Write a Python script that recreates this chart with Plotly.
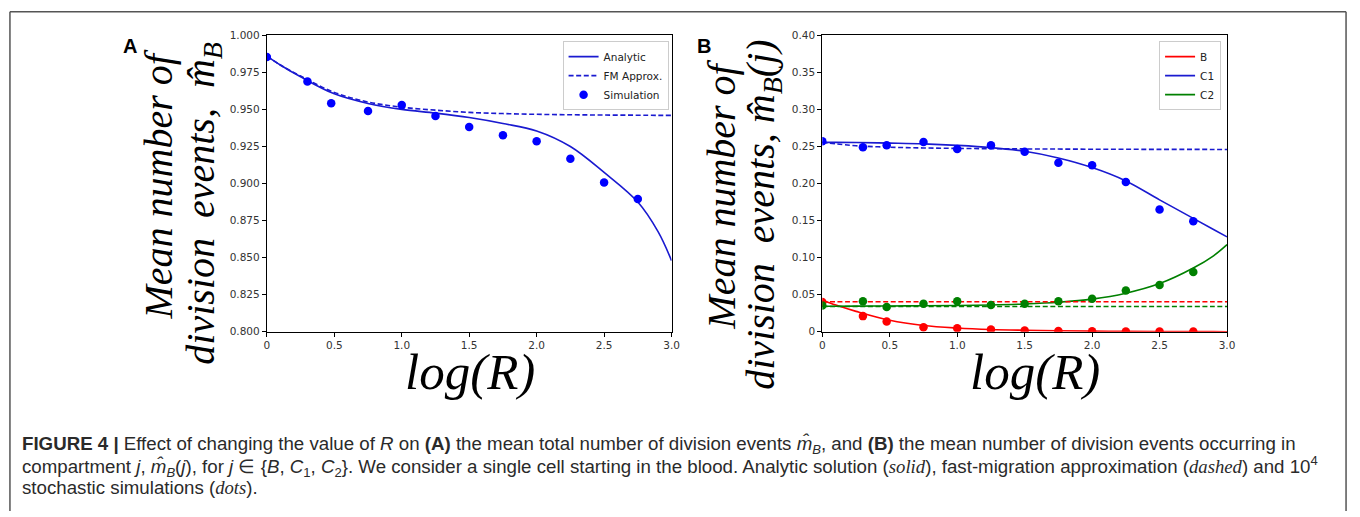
import plotly.graph_objects as go

# ---------------- data ----------------
x_sim = [0, 0.301, 0.477, 0.75, 1.0, 1.25, 1.5, 1.75, 2.0, 2.25, 2.5, 2.75]
x_curve = [0, 0.1, 0.25, 0.5, 0.75, 1.0, 1.25, 1.5, 1.75, 2.0, 2.25, 2.5, 2.75, 2.9, 3.0]

# Panel A
A_sim = [0.9853, 0.9689, 0.9542, 0.9489, 0.9529, 0.9456, 0.9382, 0.9325, 0.9285, 0.9167, 0.9007, 0.8895]
A_analytic = [0.986, 0.980, 0.972, 0.9605, 0.954, 0.950, 0.9475, 0.9445, 0.9405, 0.9355, 0.9250, 0.9075, 0.8875, 0.8675, 0.848]
A_fm = [0.986, 0.980, 0.9725, 0.9615, 0.955, 0.9515, 0.9495, 0.948, 0.9472, 0.9467, 0.9464, 0.9462, 0.9461, 0.946, 0.946]

# Panel B
B_curve = [0.0425, 0.036, 0.0275, 0.0155, 0.0085, 0.005, 0.003, 0.002, 0.0013, 0.0008, 0.0005, 0.0003, 0.0002, 0.00015, 0.0001]
C1_curve = [0.2555, 0.2555, 0.2553, 0.2545, 0.2535, 0.2515, 0.2485, 0.2435, 0.2345, 0.2215, 0.2035, 0.178, 0.153, 0.138, 0.128]
C2_curve = [0.0345, 0.0345, 0.0346, 0.0348, 0.0351, 0.0355, 0.0362, 0.0375, 0.0398, 0.044, 0.052, 0.065, 0.086, 0.1025, 0.1175]
B_fm = [0.0405, 0.0405, 0.0405, 0.0405, 0.0405, 0.0405, 0.0405, 0.0405, 0.0405, 0.0405, 0.0405, 0.0405, 0.0405, 0.0405, 0.0405]
C1_fm = [0.2555, 0.2535, 0.2510, 0.2490, 0.2480, 0.2474, 0.2470, 0.2467, 0.2465, 0.2463, 0.2462, 0.2461, 0.2461, 0.2460, 0.2460]
C2_fm = [0.0340, 0.0340, 0.0340, 0.0340, 0.0340, 0.0340, 0.0340, 0.0340, 0.0340, 0.0340, 0.0340, 0.0340, 0.0340, 0.0340, 0.0340]
B_sim = [0.0400, 0.0211, 0.0140, 0.0061, 0.0048, 0.0030, 0.0018, 0.0010, 0.0006, 0.0004, 0.0003, 0.0002]
C1_sim = [0.2570, 0.2491, 0.2518, 0.2561, 0.2465, 0.2518, 0.2430, 0.2281, 0.2246, 0.2022, 0.1649, 0.1491]
C2_sim = [0.0355, 0.0412, 0.0333, 0.0377, 0.0412, 0.0360, 0.0377, 0.0412, 0.0447, 0.0557, 0.0632, 0.0807]

x_tickvals = [0, 0.5, 1.0, 1.5, 2.0, 2.5, 3.0]
x_ticktext = ["0", "0.5", "1.0", "1.5", "2.0", "2.5", "3.0"]
yA_tickvals = [0.800, 0.825, 0.850, 0.875, 0.900, 0.925, 0.950, 0.975, 1.000]
yA_ticktext = ["0.800", "0.825", "0.850", "0.875", "0.900", "0.925", "0.950", "0.975", "1.000"]
yB_tickvals = [0, 0.05, 0.10, 0.15, 0.20, 0.25, 0.30, 0.35, 0.40]
yB_ticktext = ["0", "0.05", "0.10", "0.15", "0.20", "0.25", "0.30", "0.35", "0.40"]

BLUE = "#0000ff"
LBLUE = "#1a1ad0"
RED = "#ff0000"
GREEN = "#008000"
DASH = "5px,2.6px"

W, H = 1360, 517
def px(x): return x / W
def py(y): return 1 - y / H

fig = go.Figure()

# Panel A
fig.add_trace(go.Scatter(x=x_curve, y=A_analytic, mode="lines", name="Analytic",
                         line=dict(color=LBLUE, width=1.6, shape="spline"),
                         xaxis="x", yaxis="y", legend="legend"))
fig.add_trace(go.Scatter(x=x_curve, y=A_fm, mode="lines", name="FM Approx.",
                         line=dict(color=LBLUE, width=1.6, dash=DASH, shape="spline"),
                         xaxis="x", yaxis="y", legend="legend"))
fig.add_trace(go.Scatter(x=x_sim, y=A_sim, mode="markers", name="Simulation",
                         marker=dict(color=BLUE, size=8.5),
                         xaxis="x", yaxis="y", legend="legend"))

# Panel B
for yv, col, nm in [(B_curve, RED, "B"), (C1_curve, LBLUE, "C1"), (C2_curve, GREEN, "C2")]:
    fig.add_trace(go.Scatter(x=x_curve, y=yv, mode="lines", name=nm,
                             line=dict(color=col, width=1.6, shape="spline"),
                             xaxis="x2", yaxis="y2", legend="legend2"))
for yv, col in [(B_fm, RED), (C1_fm, LBLUE), (C2_fm, GREEN)]:
    fig.add_trace(go.Scatter(x=x_curve, y=yv, mode="lines", showlegend=False,
                             line=dict(color=col, width=1.6, dash=DASH, shape="spline"),
                             xaxis="x2", yaxis="y2"))
for yv, col in [(B_sim, RED), (C1_sim, BLUE), (C2_sim, GREEN)]:
    fig.add_trace(go.Scatter(x=x_sim, y=yv, mode="markers", showlegend=False,
                             marker=dict(color=col, size=8.5),
                             xaxis="x2", yaxis="y2"))

tickfont = dict(family="DejaVu Sans", size=10.5, color="#333333")
axis_common = dict(showline=True, linecolor="black", linewidth=1, mirror=True,
                   ticks="outside", ticklen=4, tickwidth=1, tickcolor="black",
                   showgrid=False, zeroline=False, tickfont=tickfont)

ytop, ybot = 30, 333.5
fig.update_layout(
    width=W, height=H,
    margin=dict(l=0, r=0, t=0, b=0),
    paper_bgcolor="white", plot_bgcolor="white",
    xaxis=dict(domain=[px(266), px(674)], range=[0, 3], tickvals=x_tickvals, ticktext=x_ticktext,
               anchor="y", **axis_common),
    yaxis=dict(domain=[py(ybot), py(ytop)], range=[0.8, 1.0], tickvals=yA_tickvals, ticktext=yA_ticktext,
               anchor="x", **axis_common),
    xaxis2=dict(domain=[px(826), px(1234)], range=[0, 3], tickvals=x_tickvals, ticktext=x_ticktext,
                anchor="y2", **axis_common),
    yaxis2=dict(domain=[py(ybot), py(ytop)], range=[0, 0.4], tickvals=yB_tickvals, ticktext=yB_ticktext,
                anchor="x2", **axis_common),
    legend=dict(x=px(671), y=py(36), xanchor="right", yanchor="top",
                bgcolor="rgba(255,255,255,0.85)", bordercolor="#cccccc", borderwidth=1,
                font=dict(family="DejaVu Sans", size=10.5, color="#222"),
                itemwidth=30, tracegroupgap=0),
    legend2=dict(x=px(1228), y=py(36), xanchor="right", yanchor="top",
                 bgcolor="rgba(255,255,255,0.85)", bordercolor="#cccccc", borderwidth=1,
                 font=dict(family="DejaVu Sans", size=10.5, color="#222"),
                 itemwidth=30, tracegroupgap=0),
    showlegend=True,
)

serif = dict(family="Liberation Serif", size=40, color="black")
ann = []
# panel labels
ann.append(dict(x=px(128), y=py(41), text="<b>A</b>", font=dict(family="Liberation Sans", size=20, color="black")))
ann.append(dict(x=px(707), y=py(41), text="<b>B</b>", font=dict(family="Liberation Sans", size=20, color="black")))
# y labels
ann.append(dict(x=px(157), y=py(183), text="<i>Mean number of</i>", textangle=-90, font=serif))
ann.append(dict(x=px(202), y=py(202), text="<i>division  events,  m̂<sub>B</sub></i>", textangle=-90, font=serif))
ann.append(dict(x=px(724), y=py(193), text="<i>Mean number of</i>", textangle=-90, font=serif))
ann.append(dict(x=px(766), y=py(214), text="<i>division  events, m̂<sub>B</sub>(j)</i>", textangle=-90, font=serif))
# x labels
xl = dict(family="Liberation Serif", size=51, color="black")
ann.append(dict(x=px(471), y=py(375), text="<i>log(R)</i>", font=xl))
ann.append(dict(x=px(1040), y=py(375), text="<i>log(R)</i>", font=xl))

# caption
cap_font = dict(family="Liberation Sans", size=18.7, color="#2a2a2a")
it = "<span style='font-family:Liberation Serif'><i>%s</i></span>"
cap1 = ("<b>FIGURE 4 |</b> Effect of changing the value of <i>R</i> on <b>(A)</b> the mean total number of division events "
        "<i>m̂<sub>B</sub></i>, and <b>(B)</b> the mean number of division events occurring in")
cap2 = ("compartment <i>j</i>, <i>m̂<sub>B</sub></i>(<i>j</i>), for <i>j</i> ∈ {<i>B</i>, <i>C</i><sub>1</sub>, <i>C</i><sub>2</sub>}. "
        "We consider a single cell starting in the blood. Analytic solution (" + it % "solid" +
        "), fast-migration approximation (" + it % "dashed" + ") and 10<sup>4</sup>")
cap3 = "stochastic simulations (" + it % "dots" + ")."
for t, yy in [(cap1, 449), (cap2, 471), (cap3, 493)]:
    ann.append(dict(x=px(17), y=py(yy), text=t, xanchor="left", yanchor="middle", font=cap_font))

for a in ann:
    a.setdefault("xref", "paper")
    a.setdefault("yref", "paper")
    a.setdefault("showarrow", False)
    a.setdefault("xanchor", "center")
    a.setdefault("yanchor", "middle")
fig.update_layout(annotations=ann)

# outer frame
frame = dict(type="line", xref="paper", yref="paper", line=dict(color="#555555", width=1.5))
fig.update_layout(shapes=[
    dict(frame, x0=px(7), x1=px(1354), y0=py(6), y1=py(6)),
    dict(frame, x0=px(7), x1=px(7), y0=py(6), y1=0),
    dict(frame, x0=px(1354), x1=px(1354), y0=py(6), y1=0),
])

fig.write_html("out.html", config={"displayModeBar": False},
               post_script="document.body.style.margin='0px';document.body.style.overflow='hidden';")
